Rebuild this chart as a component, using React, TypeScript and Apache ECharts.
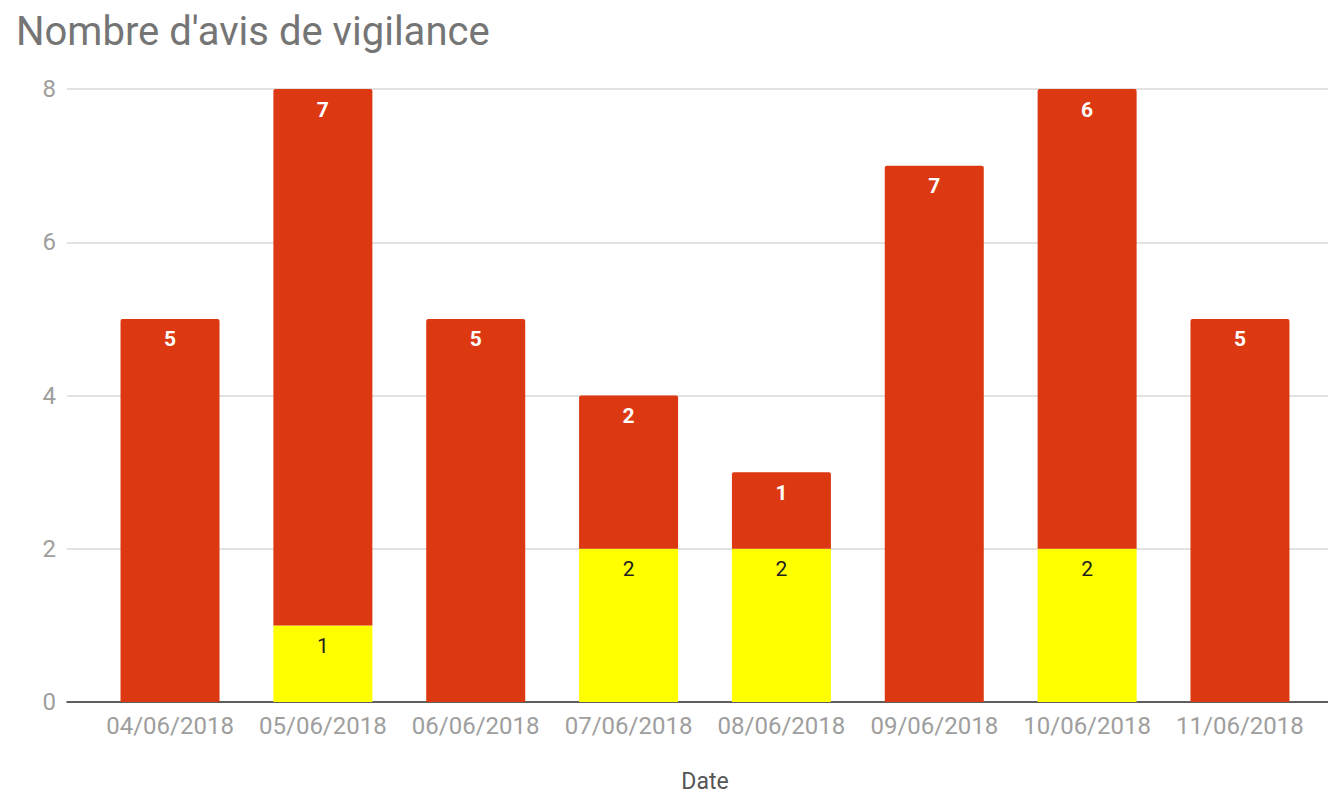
import React, { useEffect, useRef } from "react";
import * as echarts from "echarts";

const titleText = "Nombre d'avis de vigilance";
const axisName = "Date";
const categories = [
  "04/06/2018",
  "05/06/2018",
  "06/06/2018",
  "07/06/2018",
  "08/06/2018",
  "09/06/2018",
  "10/06/2018",
  "11/06/2018",
];
const yellowValues = [0, 1, 0, 2, 2, 0, 2, 0];
const redValues = [5, 7, 5, 2, 1, 7, 6, 5];
const yMin = 0;
const yMax = 8;
const yInterval = 2;

const FONT = "Roboto, 'Noto Sans', sans-serif";

export default function App() {
  const ref = useRef<HTMLDivElement>(null);
  useEffect(() => {
    if (!ref.current) return;
    const chart = echarts.init(ref.current, undefined, { renderer: "svg" });
    const top = 89;
    const bottom = 94;
    chart.setOption({
      animation: false,
      backgroundColor: "#ffffff",
      textStyle: { fontFamily: FONT },
      title: {
        text: titleText,
        left: 11,
        top: 6,
        textStyle: { fontFamily: FONT, fontSize: 40, fontWeight: "normal", color: "#757575" },
      },
      grid: [
        { left: 67, right: 0, top, bottom, containLabel: false, outerBoundsMode: "none" },
        { left: 93.6, right: 11.6, top, bottom, containLabel: false, outerBoundsMode: "none" },
      ],
      xAxis: [
        {
          gridIndex: 0,
          type: "value",
          min: 0,
          max: 1,
          axisLine: { show: true, onZero: false, lineStyle: { color: "#333333", width: 1.5 } },
          axisTick: { show: false },
          axisLabel: { show: false },
          splitLine: { show: false },
        },
        {
          gridIndex: 1,
          type: "category",
          data: categories,
          axisLine: { show: false },
          axisTick: { show: false },
          axisLabel: { color: "#9e9e9e", fontSize: 24, margin: 12, interval: 0, hideOverlap: false, fontFamily: FONT },
          name: axisName,
          nameLocation: "middle",
          nameGap: 68,
          nameTextStyle: { color: "#555555", fontSize: 23, fontFamily: FONT },
        },
      ],
      yAxis: [
        {
          gridIndex: 0,
          type: "value",
          min: yMin,
          max: yMax,
          interval: yInterval,
          axisLine: { show: false },
          axisTick: { show: false },
          axisLabel: { color: "#9e9e9e", fontSize: 24, margin: 11, fontFamily: FONT },
          splitLine: { show: true, lineStyle: { color: "#d9d9d9", width: 1.5 } },
        },
        {
          gridIndex: 1,
          type: "value",
          min: yMin,
          max: yMax,
          interval: yInterval,
          show: false,
          splitLine: { show: false },
        },
      ],
      series: [
        {
          type: "bar",
          xAxisIndex: 1,
          yAxisIndex: 1,
          stack: "total",
          barWidth: 99,
          data: yellowValues,
          itemStyle: { color: "#ffff00" },
          label: {
            show: true,
            position: "insideTop",
            distance: 10,
            color: "#222222",
            fontSize: 21,
            fontFamily: FONT,
            formatter: (p: any) => (p.value > 0 ? String(p.value) : ""),
          },
        },
        {
          type: "bar",
          xAxisIndex: 1,
          yAxisIndex: 1,
          stack: "total",
          barWidth: 99,
          data: redValues,
          itemStyle: { color: "#dc3912", borderRadius: [2, 2, 0, 0] },
          label: {
            show: true,
            position: "insideTop",
            distance: 10,
            color: "#ffffff",
            fontSize: 21,
            fontWeight: "bold",
            fontFamily: FONT,
            formatter: (p: any) => (p.value > 0 ? String(p.value) : ""),
          },
        },
      ],
    });
    return () => chart.dispose();
  }, []);
  return (
    <div
      ref={ref}
      style={{ position: "absolute", left: 0, top: 0, width: 1328, height: 796 }}
    />
  );
}
